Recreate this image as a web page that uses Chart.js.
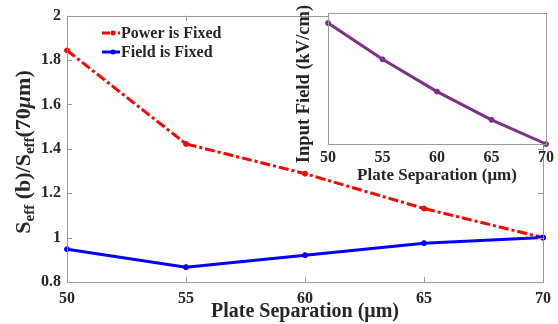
<!DOCTYPE html>
<html><head><meta charset="utf-8">
<script src="https://cdn.jsdelivr.net/npm/chart.js@4.4.0/dist/chart.umd.min.js"></script>
<style>
html,body{margin:0;padding:0;background:#fff;}
#wrap{position:relative;width:558px;height:324px;}
#main{position:absolute;left:0;top:0;}
#inset{position:absolute;left:0;top:0;}
</style></head>
<body>
<div id="wrap">
<canvas id="main" width="558" height="324"></canvas>
<canvas id="inset" width="558" height="186"></canvas>
</div>
<script>
const xLabels = ['50', '55', '60', '65', '70'];
const powerFixed = [1.843, 1.422, 1.288, 1.131, 1.0];
const fieldFixed = [0.948, 0.867, 0.921, 0.975, 1.0];
const inputField = [22.0, 18.4, 15.2, 12.4, 10.0];
const yTickLabels = ['0.8', '1', '1.2', '1.4', '1.6', '1.8', '2'];

const FONT = "'Liberation Serif', 'Times New Roman', serif";
const TXT = '#262626';
const AX = '#9a9a9a';

const boxTicks = {
  id: 'boxTicks',
  afterDatasetsDraw(chart, args, opts) {
    const ctx = chart.ctx, a = chart.chartArea;
    ctx.save();
    ctx.strokeStyle = AX; ctx.lineWidth = 1;
    ctx.strokeRect(Math.round(a.left) + 0.5, Math.round(a.top) + 0.5, Math.round(a.right - a.left), Math.round(a.bottom - a.top));
    if (opts.len) {
      const L = opts.len;
      const xs = chart.scales.x, ys = chart.scales.y;
      ctx.beginPath();
      xs.ticks.forEach((t, i) => {
        const p = Math.round(xs.getPixelForTick(i)) + 0.5;
        ctx.moveTo(p, a.bottom); ctx.lineTo(p, a.bottom - L);
        ctx.moveTo(p, a.top); ctx.lineTo(p, a.top + L);
      });
      ys.ticks.forEach((t, i) => {
        const p = Math.round(ys.getPixelForTick(i)) + 0.5;
        ctx.moveTo(a.left, p); ctx.lineTo(a.left + L, p);
        ctx.moveTo(a.right, p); ctx.lineTo(a.right - L, p);
      });
      ctx.stroke();
    }
    ctx.restore();
  }
};

const mainDecor = {
  id: 'mainDecor',
  afterDraw(chart) {
    const ctx = chart.ctx;
    ctx.save();
    const big = 'bold 22px ' + FONT, small = 'bold 15px ' + FONT, ital = 'italic bold 22px ' + FONT;
    const parts = [
      ['S', big, 0], ['eff', small, 6], [' (b)/S', big, 0], ['eff', small, 6], ['(70', big, 0], ['\u03bc', ital, 0], ['m)', big, 0]
    ];
    let total = 0;
    parts.forEach(p => { ctx.font = p[1]; total += ctx.measureText(p[0]).width; });
    ctx.translate(24, 152);
    ctx.rotate(-Math.PI / 2);
    ctx.fillStyle = TXT; ctx.textBaseline = 'middle'; ctx.textAlign = 'left';
    let x = -total / 2;
    parts.forEach(p => { ctx.font = p[1]; ctx.fillText(p[0], x, p[2]); x += ctx.measureText(p[0]).width; });
    ctx.restore();

    ctx.save();
    const items = chart.data.datasets;
    const ys = [33, 52];
    items.forEach((ds, i) => {
      const y = ys[i];
      ctx.strokeStyle = ds.borderColor; ctx.lineWidth = 3;
      ctx.setLineDash(ds.borderDash ? [8, 3, 2, 3] : []);
      ctx.beginPath(); ctx.moveTo(102, y); ctx.lineTo(120, y); ctx.stroke();
      ctx.setLineDash([]);
      ctx.fillStyle = ds.borderColor;
      ctx.beginPath(); ctx.arc(113, y, 2.5, 0, Math.PI * 2); ctx.fill();
      ctx.fillStyle = TXT; ctx.font = 'bold 16px ' + FONT; ctx.textBaseline = 'middle';
      ctx.fillText(ds.label, 121, y + 1);
    });
    ctx.restore();
  }
};

new Chart(document.getElementById('main'), {
  type: 'line',
  data: {
    labels: xLabels,
    datasets: [
      { label: 'Power is Fixed', data: powerFixed, borderColor: '#ff0000', backgroundColor: '#ff0000', order: 1,
        borderWidth: 3, borderDash: [10, 3, 3, 3], pointRadius: 2.5, pointBorderWidth: 1, pointHoverRadius: 2.5, tension: 0 },
      { label: 'Field is Fixed', data: fieldFixed, borderColor: '#0000ff', backgroundColor: '#0000ff', order: 0,
        borderWidth: 3, pointRadius: 2.5, pointBorderWidth: 1, pointHoverRadius: 2.5, tension: 0 }
    ]
  },
  options: {
    responsive: false, animation: false, clip: false,
    layout: { padding: { top: 14, right: 11, left: 0, bottom: 0 } },
    plugins: { legend: { display: false }, tooltip: { enabled: false }, boxTicks: { len: 5 } },
    scales: {
      x: {
        type: 'category', offset: false,
        grid: { display: false, drawTicks: false }, border: { display: false },
        ticks: { color: TXT, font: { family: FONT, size: 16, weight: 'bold' }, padding: 7, maxRotation: 0 },
        title: { display: true, text: 'Plate Separation (\u03bcm)', color: TXT, font: { family: FONT, size: 20, weight: 'bold' }, padding: { top: 0, bottom: 0 } },
        afterFit(s) { s.height = 42; }
      },
      y: {
        min: 0.8, max: 2,
        grid: { display: false, drawTicks: false }, border: { display: false },
        ticks: { stepSize: 0.2, color: TXT, font: { family: FONT, size: 16, weight: 'bold' }, padding: 6,
          callback: (v, i) => yTickLabels[i] },
        afterFit(s) { s.width = 67; }
      }
    }
  },
  plugins: [boxTicks, mainDecor]
});

const insetDecor = {
  id: 'insetDecor',
  beforeDatasetsDraw(chart) {
    const ctx = chart.ctx, a = chart.chartArea;
    ctx.save(); ctx.fillStyle = '#fff';
    ctx.fillRect(a.left, a.top, a.right - a.left, a.bottom - a.top);
    ctx.restore();
  },
  afterDraw(chart) {
    const ctx = chart.ctx;
    ctx.save();
    ctx.translate(304, 84); ctx.rotate(-Math.PI / 2);
    ctx.fillStyle = TXT; ctx.font = 'bold 18.5px ' + FONT; ctx.textAlign = 'center'; ctx.textBaseline = 'middle';
    ctx.fillText('Input Field (kV/cm)', 0, 0);
    ctx.restore();
  }
};

new Chart(document.getElementById('inset'), {
  type: 'line',
  data: {
    labels: xLabels,
    datasets: [
      { label: 'Input Field', data: inputField, borderColor: '#7E2F8E', backgroundColor: '#7E2F8E',
        borderWidth: 3, pointRadius: 2.5, pointBorderWidth: 1, pointHoverRadius: 2.5, tension: 0 }
    ]
  },
  options: {
    responsive: false, animation: false, clip: false,
    layout: { padding: { top: 13, right: 11, left: 288, bottom: 0 } },
    plugins: { legend: { display: false }, tooltip: { enabled: false }, boxTicks: { len: 0 } },
    scales: {
      x: {
        type: 'category', offset: false,
        grid: { display: false, drawTicks: false }, border: { display: false },
        ticks: { color: TXT, font: { family: FONT, size: 16, weight: 'bold' }, padding: 4, maxRotation: 0 },
        title: { display: true, text: 'Plate Separation (\u03bcm)', color: TXT, font: { family: FONT, size: 17, weight: 'bold' }, padding: { top: 0, bottom: 0 } },
        afterFit(s) { s.height = 42; }
      },
      y: {
        min: 10, max: 23,
        grid: { display: false, drawTicks: false }, border: { display: false },
        ticks: { display: false },
        afterFit(s) { s.width = 40; }
      }
    }
  },
  plugins: [insetDecor, boxTicks]
});
</script>
</body></html>
